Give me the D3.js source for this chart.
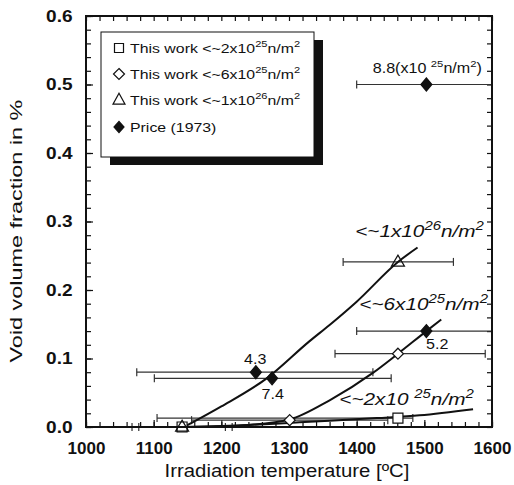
<!DOCTYPE html>
<html><head><meta charset="utf-8">
<script src="https://cdn.jsdelivr.net/npm/d3@7/dist/d3.min.js"></script>
<style>body{margin:0;background:#fff} svg{display:block} text{font-family:"Liberation Sans",Arial,Helvetica,sans-serif;fill:#111}</style>
</head><body><svg id="c" width="514" height="485"></svg>
<script>
// ---- data ----
const xTicks = [1000, 1100, 1200, 1300, 1400, 1500, 1600];
const yTicks = [0, 0.1, 0.2, 0.3, 0.4, 0.5, 0.6];
const yTickLabels = ["0.0", "0.1", "0.2", "0.3", "0.4", "0.5", "0.6"];
const legendLabels = [
  [["This work <~2x10", 0], ["25", 1], ["n/m", 0], ["2", 1]],
  [["This work <~6x10", 0], ["25", 1], ["n/m", 0], ["2", 1]],
  [["This work <~1x10", 0], ["26", 1], ["n/m", 0], ["2", 1]],
  [["Price (1973)", 0]]
];
// This work, <~2x10^25 (squares)
const sqT = [1142, 1461], sqV = [0.000, 0.013], sqLo = [1078, 1105], sqHi = [1206, 1483];
// This work, <~6x10^25 (open diamonds)
const dmT = [1301, 1461], dmV = [0.010, 0.107], dmLo = [1156, 1368], dmHi = [1446, 1590];
// This work, <~1x10^26 (triangles)
const trT = [1142, 1461], trV = [0.000, 0.241], trLo = [1068, 1380], trHi = [1216, 1543];
// Price (1973) (filled diamonds)
const prT = [1503, 1503, 1251, 1275], prV = [0.500, 0.140, 0.080, 0.071];
const prLo = [1400, 1400, 1075, 1101], prHi = [1615, 1615, 1424, 1451];
const prLabels = ["8.8", "5.2", "4.3", "7.4"];
// fitted curves
const fit26T = [1145, 1200, 1267, 1330, 1360, 1400, 1461, 1490];
const fit26V = [0.000, 0.030, 0.071, 0.125, 0.149, 0.183, 0.241, 0.262];
const fit6T = [1145, 1200, 1240, 1301, 1360, 1424, 1461, 1503, 1525];
const fit6V = [0.000, 0.001, 0.003, 0.011, 0.039, 0.079, 0.107, 0.140, 0.157];
const fit2T = [1145, 1240, 1300, 1360, 1430, 1493, 1572];
const fit2V = [0.000, 0.003, 0.006, 0.009, 0.013, 0.017, 0.026];
const curveLabels = [
  [["<~1x10", 0], ["26", 1], ["n/m", 0], ["2", 1]],
  [["<~6x10", 0], ["25", 1], ["n/m", 0], ["2", 1]],
  [["<~2x10 ", 0], ["25", 1], ["n/m", 0], ["2", 1]]
];

// ---- layout ----
const svg = d3.select("#c");
const L = 86, R = 492, T = 16, B = 427;
const x = d3.scaleLinear().domain([1000, 1600]).range([L, R]);
const y = d3.scaleLinear().domain([0, 0.6]).range([B, T]);

function richText(g, parts, size, supScale) {
  const t = g.append("text").attr("font-size", size);
  let up = false;
  parts.forEach(([s, sup]) => {
    const ts = t.append("tspan").text(s);
    if (sup && !up) { ts.attr("font-size", size * supScale).attr("dy", -size * 0.42); up = true; }
    else if (!sup && up) { ts.attr("dy", size * 0.42); up = false; }
  });
  return t;
}

// minor ticks
const xMinor = d3.range(1000, 1601, 20);
const yMinor = d3.range(0, 0.6001, 0.02);
svg.append("g").attr("transform", `translate(0,${B})`)
  .call(d3.axisBottom(x).tickValues(xMinor).tickSize(-5).tickFormat(""));
svg.append("g").attr("transform", `translate(0,${T})`)
  .call(d3.axisTop(x).tickValues(xMinor).tickSize(-5).tickFormat(""));
svg.append("g").attr("transform", `translate(${L},0)`)
  .call(d3.axisLeft(y).tickValues(yMinor).tickSize(-5).tickFormat(""));
svg.append("g").attr("transform", `translate(${R},0)`)
  .call(d3.axisRight(y).tickValues(yMinor).tickSize(-5).tickFormat(""));
// major with labels
const xa = svg.append("g").attr("transform", `translate(0,${B})`)
  .call(d3.axisBottom(x).tickValues(xTicks).tickSize(-7).tickPadding(15).tickFormat(d3.format("d")));
const ya = svg.append("g").attr("transform", `translate(${L},0)`)
  .call(d3.axisLeft(y).tickValues(yTicks).tickSize(-7).tickPadding(12).tickFormat((d, i) => yTickLabels[i]));
svg.selectAll(".domain").remove();
svg.selectAll(".tick line").attr("stroke", "#111").attr("stroke-width", 1.2);
[xa, ya].forEach(a => a.selectAll("text").attr("font-size", 17).attr("font-weight", "bold")
  .attr("fill", "#111").attr("font-family", '"Liberation Sans",Arial,sans-serif'));
ya.selectAll("text").attr("transform", "scale(1.12,1)");

// clip
svg.append("clipPath").attr("id", "clip").append("rect")
  .attr("x", L).attr("y", T).attr("width", R - L).attr("height", B - T + 8);
const plot = svg.append("g").attr("clip-path", "url(#clip)");

// error bars
function errBars(Ts, Vs, Lo, Hi) {
  Ts.forEach((t, i) => {
    const g = plot.append("g").attr("stroke", "#333").attr("stroke-width", 1.2);
    g.append("line").attr("x1", x(Lo[i])).attr("x2", x(Hi[i])).attr("y1", y(Vs[i])).attr("y2", y(Vs[i]));
    [Lo[i], Hi[i]].forEach(e => g.append("line").attr("x1", x(e)).attr("x2", x(e))
      .attr("y1", y(Vs[i]) - 4).attr("y2", y(Vs[i]) + 4));
  });
}
errBars(sqT, sqV, sqLo, sqHi);
errBars(dmT, dmV, dmLo, dmHi);
errBars(trT, trV, trLo, trHi);
errBars(prT, prV, prLo, prHi);

// curves
const line = d3.line().x(d => x(d[0])).y(d => y(d[1])).curve(d3.curveMonotoneX);
[[fit26T, fit26V], [fit6T, fit6V], [fit2T, fit2V]].forEach(([ts, vs]) => {
  plot.append("path").datum(ts.map((t, i) => [t, vs[i]]))
    .attr("d", line).attr("fill", "none").attr("stroke", "#111").attr("stroke-width", 2);
});

// markers
const sqP = s => `M${-s/2},${-s/2}h${s}v${s}h${-s}Z`;
const dmP = (w, h) => `M0,${-h/2}L${w/2},0L0,${h/2}L${-w/2},0Z`;
const trP = (w, h) => `M0,${-h*0.62}L${w/2},${h*0.38}L${-w/2},${h*0.38}Z`;
const mk = (g, d, fill) => g.append("path").attr("d", d).attr("fill", fill)
  .attr("stroke", "#111").attr("stroke-width", 1.2);
const mg = svg.append("g");
sqT.forEach((t, i) => mk(mg, sqP(10), "#fff").attr("transform", `translate(${x(t)},${y(sqV[i])})`));
dmT.forEach((t, i) => mk(mg, dmP(11, 11), "#fff").attr("transform", `translate(${x(t)},${y(dmV[i])})`));
trT.forEach((t, i) => mk(mg, trP(13, 11), "#fff").attr("transform", `translate(${x(t)},${y(trV[i])})`).attr("fill", "none"));
prT.forEach((t, i) => mk(mg, dmP(11, 13), "#111").attr("transform", `translate(${x(t)},${y(prV[i])})`));

// frame
svg.append("rect").attr("x", L).attr("y", T).attr("width", R - L).attr("height", B - T)
  .attr("fill", "none").attr("stroke", "#111").attr("stroke-width", 2);

// price labels
const prLab = [
  {i: 0, t: 1585, v: 0.517, anchor: "end", extra: true},
  {i: 1, t: 1519, v: 0.114, anchor: "middle"},
  {i: 2, t: 1250, v: 0.092, anchor: "middle"},
  {i: 3, t: 1276, v: 0.041, anchor: "middle"}
];
prLab.forEach(p => {
  const g = svg.append("g").attr("transform", `translate(${x(p.t)},${y(p.v)}) scale(1.15,1)`);
  const parts = p.extra ? [[prLabels[p.i] + "(x10 ", 0], ["25", 1], ["n/m", 0], ["2", 1], [")", 0]]
                        : [[prLabels[p.i], 0]];
  richText(g, parts, 14, 0.7).attr("text-anchor", p.anchor);
});

// curve labels
const cLab = [{t: 1588, v: 0.277}, {t: 1594, v: 0.171}, {t: 1573, v: 0.032}];
cLab.forEach((p, i) => {
  const g = svg.append("g").attr("transform", `translate(${x(p.t)},${y(p.v)}) scale(1.22,1)`);
  richText(g, curveLabels[i], 17, 0.72).attr("text-anchor", "end").attr("font-style", "italic");
});

// legend
svg.append("rect").attr("x", 110).attr("y", 40).attr("width", 213).attr("height", 125).attr("fill", "#111");
svg.append("rect").attr("x", 101).attr("y", 32).attr("width", 213).attr("height", 125)
  .attr("fill", "#fff").attr("stroke", "#111").attr("stroke-width", 1);
const rowsY = [48, 74, 100, 127];
const lg = svg.append("g");
mk(lg, sqP(9), "#fff").attr("transform", `translate(119,${rowsY[0]})`);
mk(lg, dmP(11, 11), "#fff").attr("transform", `translate(119,${rowsY[1]})`);
mk(lg, trP(12, 11), "#fff").attr("transform", `translate(119,${rowsY[2]})`);
mk(lg, dmP(10, 11), "#111").attr("transform", `translate(119,${rowsY[3]})`);
legendLabels.forEach((parts, i) => {
  const g = svg.append("g").attr("transform", `translate(130,${rowsY[i] + 4.5}) scale(1.22,1)`);
  richText(g, parts, 13, 0.7);
});

// axis titles
svg.append("g").attr("transform", "translate(287,477) scale(1.1,1)")
  .append("text").attr("text-anchor", "middle").attr("font-size", 18.5).text("Irradiation temperature [ºC]");
svg.append("g").attr("transform", "translate(22,231) rotate(-90) scale(1.42,1)")
  .append("text").attr("text-anchor", "middle").attr("font-size", 16.5).text("Void volume fraction in %");
</script></body></html>
